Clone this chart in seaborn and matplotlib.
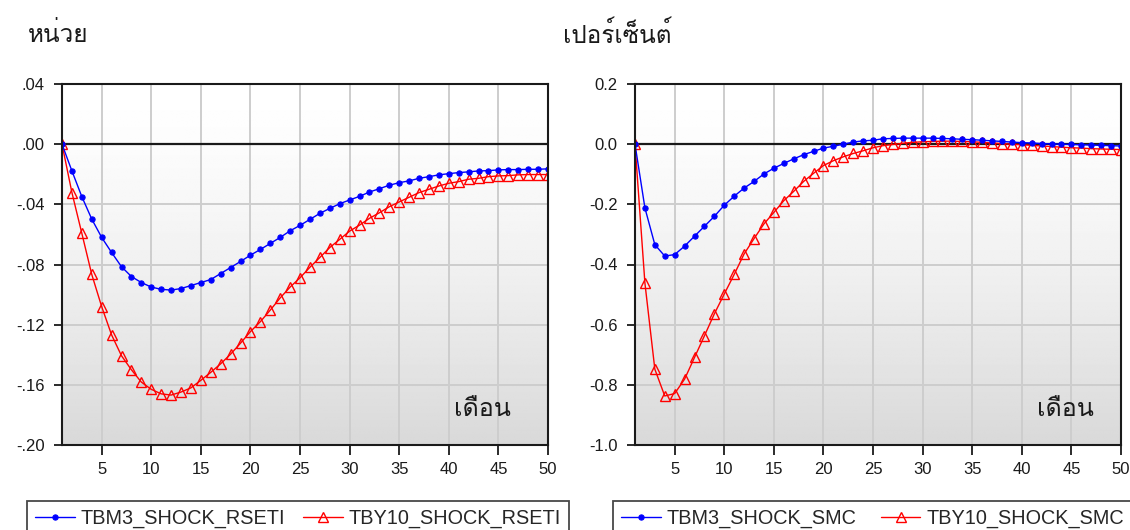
import numpy as np
import matplotlib
matplotlib.use("Agg")
import matplotlib.pyplot as plt
import seaborn as sns

months = list(range(1, 51))

tbm3_shock_rseti = [
    0.0, -0.0178, -0.0349, -0.0498, -0.062, -0.072, -0.0815, -0.088, -0.092, -0.095,
    -0.0965, -0.097, -0.096, -0.094, -0.092, -0.090, -0.086, -0.082, -0.078, -0.0738,
    -0.070, -0.066, -0.062, -0.0576, -0.054, -0.050, -0.046, -0.0427, -0.0396, -0.0371,
    -0.0347, -0.0318, -0.0296, -0.0273, -0.0256, -0.0244, -0.0227, -0.0216, -0.0204, -0.0196,
    -0.0189, -0.0184, -0.0178, -0.0176, -0.0171, -0.0169, -0.0169, -0.0167, -0.0167, -0.0164,
]
tby10_shock_rseti = [
    0.0, -0.0322, -0.0593, -0.0866, -0.108, -0.1268, -0.1407, -0.150, -0.1582, -0.163,
    -0.166, -0.1668, -0.1648, -0.162, -0.157, -0.1517, -0.146, -0.1396, -0.1323, -0.1246,
    -0.118, -0.1103, -0.1022, -0.095, -0.0888, -0.0818, -0.0753, -0.0687, -0.0633, -0.0578,
    -0.0538, -0.0493, -0.0456, -0.0416, -0.0384, -0.0353, -0.0322, -0.030, -0.0278, -0.026,
    -0.0249, -0.0233, -0.0227, -0.0216, -0.0211, -0.0209, -0.0204, -0.0202, -0.0202, -0.0202,
]
tbm3_shock_smc = [
    0.0, -0.212, -0.334, -0.372, -0.367, -0.339, -0.306, -0.273, -0.240, -0.203,
    -0.173, -0.146, -0.124, -0.099, -0.080, -0.064, -0.049, -0.035, -0.024, -0.013,
    -0.007, 0.0, 0.007, 0.011, 0.013, 0.018, 0.019, 0.020, 0.020, 0.020,
    0.020, 0.019, 0.018, 0.016, 0.015, 0.013, 0.011, 0.009, 0.007, 0.005,
    0.004, 0.002, 0.001, 0.0, -0.001, -0.002, -0.003, -0.004, -0.005, -0.006,
]
tby10_shock_smc = [
    0.0, -0.462, -0.748, -0.837, -0.829, -0.781, -0.709, -0.637, -0.564, -0.498,
    -0.433, -0.365, -0.314, -0.265, -0.227, -0.188, -0.157, -0.124, -0.097, -0.071,
    -0.055, -0.042, -0.031, -0.022, -0.012, -0.005, -0.001, 0.003, 0.006, 0.008,
    0.009, 0.010, 0.010, 0.009, 0.008, 0.006, 0.004, 0.002, 0.0, -0.002,
    -0.004, -0.006, -0.008, -0.010, -0.012, -0.013, -0.015, -0.016, -0.017, -0.018,
]

x_ticks = [5, 10, 15, 20, 25, 30, 35, 40, 45, 50]
left_yticks = [0.04, 0.0, -0.04, -0.08, -0.12, -0.16, -0.20]
left_ylabels = [".04", ".00", "-.04", "-.08", "-.12", "-.16", "-.20"]
right_yticks = [0.2, 0.0, -0.2, -0.4, -0.6, -0.8, -1.0]
right_ylabels = ["0.2", "0.0", "-0.2", "-0.4", "-0.6", "-0.8", "-1.0"]

sns.set_style("white")
plt.rcParams["font.family"] = ["Liberation Sans", "DejaVu Sans"]
THAI = ["Loma", "Noto Sans Thai Looped", "DejaVu Sans"]

BLUE = "#0000ff"
RED = "#ff0000"
INK = "#1a1a1a"

W, H = 1130, 530
fig = plt.figure(figsize=(W / 100, H / 100), dpi=100)
ax_l = fig.add_axes([62 / W, 1 - 445 / H, 486 / W, 361 / H])
ax_r = fig.add_axes([635 / W, 1 - 445 / H, 486 / W, 361 / H])

# vertical white-to-grey background shading
t = np.linspace(0, 1, 256)[:, None]
shade = 1 - 0.15 * t ** 1.4
bg = np.repeat(shade, 2, axis=1)


def draw_panel(ax, blue_vals, red_vals, blue_name, red_name, yticks, ylabels, ylim):
    ax.imshow(bg, cmap="gray", vmin=0, vmax=1, aspect="auto",
              extent=[0, 1, 0, 1], transform=ax.transAxes, zorder=0,
              interpolation="bilinear")
    sns.lineplot(x=months, y=blue_vals, ax=ax, color=BLUE, lw=1.0, marker="o",
                 markersize=3.8, markeredgecolor=BLUE, markerfacecolor=BLUE,
                 label=blue_name, zorder=4, legend=False)
    sns.lineplot(x=months, y=red_vals, ax=ax, color=RED, lw=1.0, marker="^",
                 markersize=6.5, markeredgecolor=RED, markerfacecolor="none",
                 markeredgewidth=1.0, label=red_name, zorder=3, legend=False)
    ax.axhline(0, color=INK, lw=1.6, zorder=2)
    ax.set_xlim(1, 50)
    ax.set_ylim(*ylim)
    ax.set_xticks(x_ticks)
    ax.set_yticks(yticks)
    ax.set_yticklabels(ylabels)
    ax.set_axisbelow(True)
    ax.grid(True, color="#cdcdcd", lw=1.4)
    for sp in ax.spines.values():
        sp.set_color(INK)
        sp.set_linewidth(1.5)
        sp.set_zorder(5)
    ax.tick_params(axis="both", direction="out", width=1.3, color=INK,
                   labelsize=12, labelcolor=INK, left=True, bottom=True)
    ax.tick_params(axis="y", length=6, pad=6.5)
    ax.tick_params(axis="x", length=7, pad=5)
    ax.set_xlabel("")
    ax.set_ylabel("")


draw_panel(ax_l, tbm3_shock_rseti, tby10_shock_rseti,
           "TBM3_SHOCK_RSETI", "TBY10_SHOCK_RSETI",
           left_yticks, left_ylabels, (-0.20, 0.04))
draw_panel(ax_r, tbm3_shock_smc, tby10_shock_smc,
           "TBM3_SHOCK_SMC", "TBY10_SHOCK_SMC",
           right_yticks, right_ylabels, (-1.0, 0.2))

# axis captions inside the panels
ax_l.text(0.807, 0.097, "เดือน", transform=ax_l.transAxes, family=THAI,
          fontsize=18, ha="left", va="center", color=INK, zorder=6)
ax_r.text(0.827, 0.097, "เดือน", transform=ax_r.transAxes, family=THAI,
          fontsize=18, ha="left", va="center", color=INK, zorder=6)

# unit captions above the panels
fig.text(28 / W, 1 - 35 / H, "หน่วย", family=THAI, fontsize=17.5,
         ha="left", va="center", color=INK)
fig.text(563 / W, 1 - 35 / H, "เปอร์เซ็นต์", family=THAI, fontsize=17.5,
         ha="left", va="center", color=INK)

# legends below each panel
for ax, x0, width in ((ax_l, 27, 542), (ax_r, 613, 519)):
    handles, labels = ax.get_legend_handles_labels()
    leg = fig.legend(handles, labels, loc="upper left",
                     bbox_to_anchor=(x0 / W, 1 - 501 / H, width / W, 0),
                     mode="expand", ncol=2, frameon=True, fancybox=False,
                     edgecolor=INK, fontsize=14.3, borderaxespad=0,
                     handlelength=2.0, handletextpad=0.3, columnspacing=0.8,
                     borderpad=0.4)
    leg.get_frame().set_linewidth(1.3)
    leg.get_frame().set_facecolor("white")

fig.savefig("out.png", dpi=100)
